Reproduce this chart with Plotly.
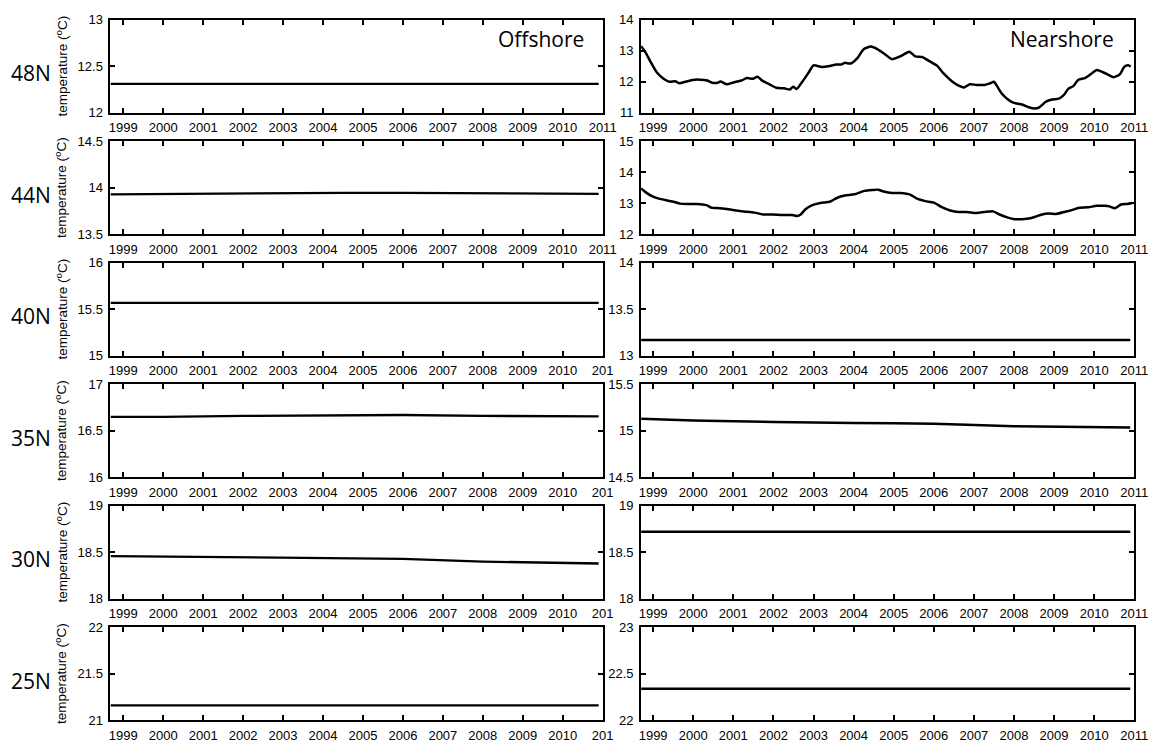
import plotly.graph_objects as go

W, H = 1166, 746

# ---------------- data ----------------
row_labels = ["48N", "44N", "40N", "35N", "30N", "25N"]

# flat / near-flat series: (years, values)
off_years = [1998.68, 2000.0, 2002.0, 2004.5, 2006.0, 2008.0, 2010.9]
off_48N = [12.31, 12.31, 12.31, 12.31, 12.31, 12.31, 12.31]
off_44N = [13.93, 13.935, 13.94, 13.945, 13.945, 13.94, 13.935]
off_40N = [15.57, 15.57, 15.57, 15.57, 15.57, 15.57, 15.57]
off_35N = [16.65, 16.65, 16.66, 16.67, 16.67, 16.66, 16.655]
off_30N = [18.46, 18.455, 18.45, 18.44, 18.43, 18.40, 18.38]
off_25N = [21.16, 21.16, 21.16, 21.16, 21.16, 21.16, 21.16]

near_flat_years = [1998.70, 2000.0, 2002.0, 2004.0, 2006.0, 2008.0, 2010.9]
near_40N = [13.17, 13.17, 13.17, 13.17, 13.17, 13.17, 13.17]
near_35N = [15.13, 15.11, 15.095, 15.085, 15.075, 15.05, 15.035]
near_30N = [18.72, 18.72, 18.72, 18.72, 18.72, 18.72, 18.72]
near_25N = [22.34, 22.34, 22.34, 22.34, 22.34, 22.34, 22.34]

near48_years = [1998.70, 1998.81, 1998.93, 1999.10, 1999.26, 1999.41, 1999.55, 1999.66, 1999.80,
                1999.98, 2000.17, 2000.35, 2000.47, 2000.61, 2000.68, 2000.84, 2001.00, 2001.20,
                2001.34, 2001.49, 2001.60, 2001.74, 2001.90, 2002.07, 2002.27, 2002.41, 2002.49,
                2002.58, 2002.72, 2002.88, 2003.00, 2003.20, 2003.37, 2003.57, 2003.70, 2003.78,
                2003.93, 2004.10, 2004.25, 2004.43, 2004.56, 2004.75, 2004.96, 2005.12, 2005.25,
                2005.39, 2005.54, 2005.71, 2005.92, 2006.08, 2006.25, 2006.45, 2006.62, 2006.76,
                2006.90, 2007.07, 2007.27, 2007.40, 2007.50, 2007.56, 2007.69, 2007.85, 2008.00,
                2008.20, 2008.39, 2008.52, 2008.62, 2008.80, 2008.95, 2009.12, 2009.24, 2009.36,
                2009.48, 2009.60, 2009.77, 2009.90, 2010.07, 2010.23, 2010.36, 2010.48, 2010.64,
                2010.75, 2010.85, 2010.91]
near48_vals = [13.15, 12.95, 12.66, 12.29, 12.10, 12.00, 12.02, 11.95, 12.00,
               12.06, 12.07, 12.04, 11.97, 11.97, 12.01, 11.92, 11.98, 12.04,
               12.12, 12.10, 12.16, 12.02, 11.92, 11.81, 11.79, 11.75, 11.84,
               11.77, 12.00, 12.30, 12.53, 12.48, 12.50, 12.56, 12.56, 12.61,
               12.59, 12.77, 13.05, 13.14, 13.08, 12.92, 12.73, 12.80, 12.88,
               12.97, 12.82, 12.80, 12.64, 12.52, 12.26, 12.02, 11.88, 11.82,
               11.92, 11.90, 11.90, 11.95, 12.00, 11.90, 11.63, 11.43, 11.32,
               11.27, 11.17, 11.14, 11.17, 11.36, 11.43, 11.46, 11.57, 11.78,
               11.86, 12.06, 12.12, 12.23, 12.38, 12.30, 12.22, 12.15, 12.24,
               12.48, 12.53, 12.49]

near44_years = [1998.70, 1998.81, 1998.97, 1999.14, 1999.35, 1999.51, 1999.67, 1999.84, 2000.08,
                2000.33, 2000.45, 2000.66, 2000.92, 2001.16, 2001.33, 2001.53, 2001.74, 2001.98,
                2002.23, 2002.47, 2002.59, 2002.68, 2002.80, 2002.97, 2003.17, 2003.42, 2003.58,
                2003.78, 2004.02, 2004.27, 2004.47, 2004.61, 2004.75, 2004.96, 2005.16, 2005.41,
                2005.58, 2005.79, 2006.00, 2006.20, 2006.41, 2006.62, 2006.82, 2007.07, 2007.27,
                2007.48, 2007.64, 2007.85, 2008.01, 2008.21, 2008.41, 2008.54, 2008.70, 2008.87,
                2009.07, 2009.28, 2009.44, 2009.60, 2009.85, 2010.06, 2010.26, 2010.38, 2010.52,
                2010.67, 2010.83, 2010.95]
near44_vals = [13.48, 13.36, 13.23, 13.15, 13.09, 13.05, 12.99, 12.98, 12.98,
               12.94, 12.86, 12.84, 12.80, 12.75, 12.73, 12.70, 12.64, 12.64,
               12.62, 12.62, 12.59, 12.64, 12.81, 12.94, 13.01, 13.06, 13.17,
               13.25, 13.29, 13.40, 13.43, 13.44, 13.38, 13.33, 13.33, 13.28,
               13.15, 13.07, 13.02, 12.88, 12.77, 12.72, 12.72, 12.69, 12.72,
               12.74, 12.64, 12.54, 12.49, 12.49, 12.52, 12.57, 12.64, 12.67,
               12.66, 12.73, 12.78, 12.85, 12.87, 12.92, 12.92, 12.90, 12.84,
               12.96, 12.98, 13.01]

offshore_series = [(off_years, off_48N), (off_years, off_44N), (off_years, off_40N),
                   (off_years, off_35N), (off_years, off_30N), (off_years, off_25N)]
nearshore_series = [(near48_years, near48_vals), (near44_years, near44_vals),
                    (near_flat_years, near_40N), (near_flat_years, near_35N),
                    (near_flat_years, near_30N), (near_flat_years, near_25N)]

off_ranges = [[12, 13], [13.5, 14.5], [15, 16], [16, 17], [18, 19], [21, 22]]
off_ticks = [[12, 12.5, 13], [13.5, 14, 14.5], [15, 15.5, 16], [16, 16.5, 17], [18, 18.5, 19], [21, 21.5, 22]]
near_ranges = [[11, 14], [12, 15], [13, 14], [14.5, 15.5], [18, 19], [22, 23]]
near_ticks = [[11, 12, 13, 14], [12, 13, 14, 15], [13, 13.5, 14], [14.5, 15, 15.5], [18, 18.5, 19], [22, 22.5, 23]]

year_ticks = list(range(1999, 2012))
year_labels = [str(y) for y in year_ticks]
year_labels_clipped = year_labels[:-1] + ["201"]

y_title = "temperature (\u2070C)"

# ---------------- layout ----------------
LX0, LX1 = 110, 609
RX0, RX1 = 648, 1148
TOP0, PH, STEP = 13, 95, 124

fig = go.Figure()
layout = dict(width=W, height=H, margin=dict(l=0, r=0, t=0, b=0),
              paper_bgcolor="white", plot_bgcolor="white", showlegend=False)

tickfont = dict(family="Liberation Sans, Arial", size=13, color="black")
annotations = []

def xa(domain, labels, xr):
    return dict(domain=domain, range=xr, tickmode="array", tickvals=year_ticks, ticktext=labels,
                ticks="inside", ticklen=5, tickwidth=1.5, tickcolor="black",
                showline=True, linewidth=2, linecolor="black", mirror="allticks",
                showgrid=False, zeroline=False, tickfont=tickfont, ticklabelstandoff=2)

def ya(domain, rng, tv, anchor):
    return dict(domain=domain, range=rng, tickmode="array", tickvals=tv,
                ticktext=[("%g" % v) for v in tv], anchor=anchor,
                ticks="inside", ticklen=5, tickwidth=1.5, tickcolor="black",
                showline=True, linewidth=2, linecolor="black", mirror="allticks",
                showgrid=False, zeroline=False, tickfont=tickfont, ticklabelstandoff=3)

for i in range(6):
    top = TOP0 + STEP * i
    bot = top + PH
    ydom = [1 - bot / H, 1 - top / H]
    li = 2 * i + 1
    ri = 2 * i + 2
    lx = "x" if li == 1 else "x%d" % li
    ly = "y" if li == 1 else "y%d" % li
    rx = "x%d" % ri
    ry = "y%d" % ri
    layout["xaxis" if li == 1 else "xaxis%d" % li] = dict(
        xa([LX0 / W, LX1 / W], year_labels if i < 2 else year_labels_clipped, [1998.68, 2011.0]),
        anchor=ly)
    layout["yaxis" if li == 1 else "yaxis%d" % li] = ya(ydom, off_ranges[i], off_ticks[i], lx)
    layout["xaxis%d" % ri] = dict(xa([RX0 / W, RX1 / W], year_labels, [1998.70, 2011.0]), anchor=ry)
    layout["yaxis%d" % ri] = ya(ydom, near_ranges[i], near_ticks[i], rx)

    xs, ys = offshore_series[i]
    fig.add_trace(go.Scatter(x=xs, y=ys, mode="lines", xaxis=lx, yaxis=ly,
                             line=dict(color="black", width=2.3), hoverinfo="skip"))
    xs, ys = nearshore_series[i]
    fig.add_trace(go.Scatter(x=xs, y=ys, mode="lines", xaxis=rx, yaxis=ry,
                             line=dict(color="black", width=2.5, shape="spline", smoothing=0.6),
                             hoverinfo="skip"))

    # y-axis title
    annotations.append(dict(text=y_title, xref="paper", yref="paper",
                            x=61 / W, y=1 - (top + PH / 2) / H, textangle=-90, showarrow=False,
                            font=dict(family="Liberation Sans, DejaVu Sans", size=13.5, color="black"),
                            xanchor="center", yanchor="middle"))
    # row label
    annotations.append(dict(text=row_labels[i], xref="paper", yref="paper",
                            x=29 / W, y=1 - (top + PH / 2 + 7) / H, showarrow=False,
                            font=dict(family="Open Sans", size=21, color="black"),
                            xanchor="center", yanchor="middle"))

annotations.append(dict(text="Offshore", xref="paper", yref="paper", x=592 / W, y=1 - 33 / H,
                        showarrow=False, xanchor="right", yanchor="middle",
                        font=dict(family="Open Sans", size=21, color="black")))
annotations.append(dict(text="Nearshore", xref="paper", yref="paper", x=1130 / W, y=1 - 33 / H,
                        showarrow=False, xanchor="right", yanchor="middle",
                        font=dict(family="Open Sans", size=21, color="black")))

layout["annotations"] = annotations
fig.update_layout(**layout)
fig.write_html("out.html")
